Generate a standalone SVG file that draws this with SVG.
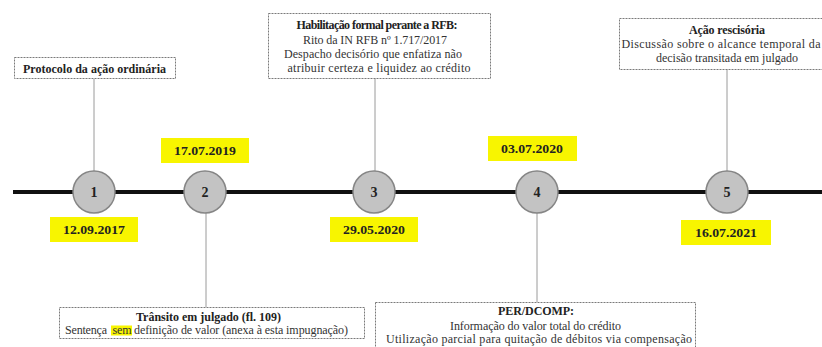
<svg xmlns="http://www.w3.org/2000/svg" width="822" height="347" viewBox="0 0 822 347">
<style>
  .box { fill: #ffffff; stroke: #7a7a7a; stroke-width: 1; stroke-dasharray: 2 1; }
  .conn { stroke: #9a9a9a; stroke-width: 1; fill: none; }
  .axis { stroke: #111111; stroke-width: 4; fill: none; }
  .circ { fill: #c3c3c3; stroke: #868686; stroke-width: 1.5; }
  .num { font-family: "Liberation Serif", "Times New Roman", serif; font-weight: bold; font-size: 14px; fill: #222222; text-anchor: middle; }
  .date-bg { fill: #f8f500; }
  .date { font-family: "Liberation Serif", "Times New Roman", serif; font-weight: bold; font-size: 13px; fill: #222222; text-anchor: middle; }
  .t { font-family: "Liberation Serif", "Times New Roman", serif; font-size: 12px; fill: #333333; text-anchor: middle; }
  .ts { font-family: "Liberation Serif", "Times New Roman", serif; font-size: 12px; fill: #333333; }
  .b { font-weight: bold; fill: #222222; }
  .hl { fill: #f8f500; }
</style>
<rect width="822" height="347" fill="#ffffff"/>

<g id="connectors">
  <line class="axis" x1="13" y1="192" x2="822" y2="192"/>
  <line class="conn" x1="94" y1="79" x2="94" y2="171"/>
  <line class="conn" x1="375" y1="78" x2="375" y2="171"/>
  <line class="conn" x1="727" y1="69" x2="727" y2="171"/>
  <line class="conn" x1="206" y1="213" x2="206" y2="307"/>
  <line class="conn" x1="537" y1="213" x2="537" y2="302"/>
</g>

<g id="node-1">
  <circle class="circ" cx="94" cy="192" r="21"/>
  <text class="num" x="94" y="197">1</text>
  <rect class="date-bg" x="50" y="217" width="88" height="25"/>
  <text class="date" x="94" y="234" textLength="62" lengthAdjust="spacingAndGlyphs">12.09.2017</text>
</g>
<g id="node-2">
  <circle class="circ" cx="205" cy="192" r="21"/>
  <text class="num" x="205" y="197">2</text>
  <rect class="date-bg" x="161" y="138" width="88" height="25"/>
  <text class="date" x="205" y="155" textLength="62" lengthAdjust="spacingAndGlyphs">17.07.2019</text>
</g>
<g id="node-3">
  <circle class="circ" cx="374" cy="192" r="21"/>
  <text class="num" x="374" y="197">3</text>
  <rect class="date-bg" x="330" y="217" width="88" height="25"/>
  <text class="date" x="374" y="234" textLength="62" lengthAdjust="spacingAndGlyphs">29.05.2020</text>
</g>
<g id="node-4">
  <circle class="circ" cx="537" cy="192" r="21"/>
  <text class="num" x="537" y="197">4</text>
  <rect class="date-bg" x="488" y="136" width="89" height="25"/>
  <text class="date" x="532" y="153" textLength="62" lengthAdjust="spacingAndGlyphs">03.07.2020</text>
</g>
<g id="node-5">
  <circle class="circ" cx="727" cy="192" r="21"/>
  <text class="num" x="727" y="197">5</text>
  <rect class="date-bg" x="681" y="220" width="90" height="25"/>
  <text class="date" x="726" y="237" textLength="62" lengthAdjust="spacingAndGlyphs">16.07.2021</text>
</g>

<g id="box-protocolo">
  <rect class="box" x="14.5" y="57.5" width="161" height="21"/>
  <text class="t b" x="94.5" y="72.5" font-size="11.5" textLength="143" lengthAdjust="spacing">Protocolo da ação ordinária</text>
</g>

<g id="box-habilitacao">
  <rect class="box" x="268.5" y="13.5" width="222" height="65"/>
  <text class="t b" x="377" y="29" textLength="161" lengthAdjust="spacing">Habilitação formal perante a RFB:</text>
  <text class="t" x="375" y="43.5" textLength="144" lengthAdjust="spacing">Rito da IN RFB nº 1.717/2017</text>
  <text class="t" x="373" y="57.5" textLength="178" lengthAdjust="spacing">Despacho decisório que enfatiza não</text>
  <text class="t" x="379" y="71.5" textLength="183" lengthAdjust="spacing">atribuir certeza e liquidez ao crédito</text>
</g>

<g id="box-rescisoria">
  <rect class="box" x="619.5" y="18.5" width="210" height="51"/>
  <text class="t b" x="727" y="34" textLength="76" lengthAdjust="spacing">Ação rescisória</text>
  <text class="t" x="721" y="48" textLength="199" lengthAdjust="spacing">Discussão sobre o alcance temporal da</text>
  <text class="t" x="727" y="62" textLength="142" lengthAdjust="spacing">decisão transitada em julgado</text>
</g>

<g id="box-transito">
  <rect class="box" x="59.5" y="307.5" width="305" height="31"/>
  <text class="t b" x="208.5" y="321" textLength="145" lengthAdjust="spacing">Trânsito em julgado (fl. 109)</text>
  <rect class="hl" x="111" y="325.5" width="21" height="10"/>
  <text class="ts" x="65" y="333.5" textLength="42" lengthAdjust="spacing">Sentença</text>
  <text class="ts" x="112.5" y="333.5" textLength="19" lengthAdjust="spacing">sem</text>
  <text class="ts" x="134" y="333.5" textLength="214" lengthAdjust="spacing">definição de valor (anexa à esta impugnação)</text>
</g>

<g id="box-perdcomp">
  <rect class="box" x="375.5" y="302.5" width="320" height="50"/>
  <text class="t b" x="536" y="315" textLength="76" lengthAdjust="spacing">PER/DCOMP:</text>
  <text class="t" x="535.5" y="329.5" textLength="171" lengthAdjust="spacing">Informação do valor total do crédito</text>
  <text class="t" x="539" y="343" textLength="306" lengthAdjust="spacing">Utilização parcial para quitação de débitos via compensação</text>
</g>
</svg>
